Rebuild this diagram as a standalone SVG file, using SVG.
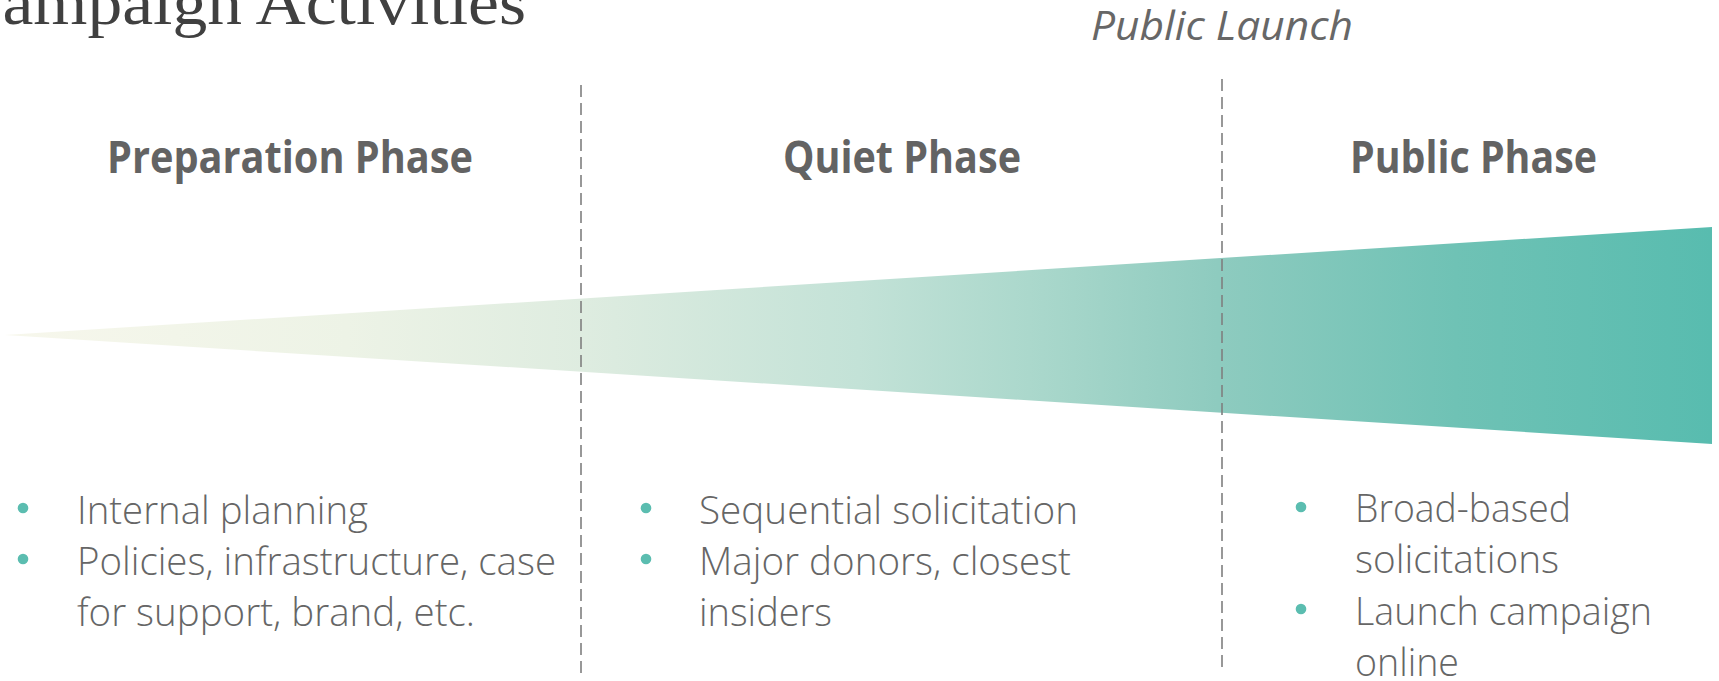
<svg xmlns="http://www.w3.org/2000/svg" width="1719" height="681" viewBox="0 0 1719 681">
  <defs>
    <linearGradient id="growth" gradientUnits="userSpaceOnUse" x1="5" y1="0" x2="1712" y2="0">
      <stop offset="0" stop-color="#f7f7ec"/>
      <stop offset="0.2" stop-color="#edf3e6"/>
      <stop offset="0.34" stop-color="#deece0"/>
      <stop offset="0.5" stop-color="#c3e2d7"/>
      <stop offset="0.6" stop-color="#abd8cc"/>
      <stop offset="0.71" stop-color="#8ecbbf"/>
      <stop offset="0.85" stop-color="#6fc2b5"/>
      <stop offset="1" stop-color="#58bcaf"/>
    </linearGradient>
    <style>
      .title { font-family: "Liberation Serif", "DejaVu Serif", serif; font-size: 64px; fill: #404040; }
      .phase { font-family: "Open Sans", "Liberation Sans", sans-serif; font-weight: 700; font-size: 44px; fill: #636363; }
      .launch { font-family: "Open Sans", "Liberation Sans", sans-serif; font-weight: 400; font-style: italic; font-size: 41px; fill: #676767; }
      .item { font-family: "Open Sans", "Liberation Sans", sans-serif; font-weight: 300; font-size: 38px; fill: #666666; }
      .dot { fill: #5bbdb0; }
      .divider { stroke: #7f7f7f; stroke-width: 1.6; stroke-dasharray: 12 6; fill: none; }
    </style>
  </defs>

  <!-- page heading, partly above the top edge -->
  <text class="title" x="-44" y="24" textLength="570" lengthAdjust="spacingAndGlyphs">Campaign Activities</text>

  <!-- widening wedge showing campaign growth -->
  <polygon id="wedge" points="5,335 1712,227 1712,444" fill="url(#growth)"/>

  <!-- phase boundaries -->
  <g id="connectors">
    <line class="divider" x1="581" y1="85" x2="581" y2="674"/>
    <line class="divider" x1="1222" y1="79" x2="1222" y2="669"/>
  </g>

  <g id="public-launch">
    <text class="launch" x="1091" y="40" textLength="262" lengthAdjust="spacingAndGlyphs">Public Launch</text>
  </g>

  <g id="preparation-phase">
    <text class="phase" x="107" y="173" textLength="366" lengthAdjust="spacingAndGlyphs">Preparation Phase</text>
    <circle class="dot" cx="23" cy="508" r="5.3"/>
    <text class="item" x="77" y="524" textLength="291" lengthAdjust="spacingAndGlyphs">Internal planning</text>
    <circle class="dot" cx="23" cy="559" r="5.3"/>
    <text class="item" x="77" y="575" textLength="479" lengthAdjust="spacingAndGlyphs">Policies, infrastructure, case</text>
    <text class="item" x="77" y="626" textLength="398" lengthAdjust="spacingAndGlyphs">for support, brand, etc.</text>
  </g>

  <g id="quiet-phase">
    <text class="phase" x="783" y="173" textLength="238" lengthAdjust="spacingAndGlyphs">Quiet Phase</text>
    <circle class="dot" cx="646" cy="508" r="5.3"/>
    <text class="item" x="699" y="524" textLength="379" lengthAdjust="spacingAndGlyphs">Sequential solicitation</text>
    <circle class="dot" cx="646" cy="559" r="5.3"/>
    <text class="item" x="699" y="575" textLength="372" lengthAdjust="spacingAndGlyphs">Major donors, closest</text>
    <text class="item" x="699" y="626" textLength="133" lengthAdjust="spacingAndGlyphs">insiders</text>
  </g>

  <g id="public-phase">
    <text class="phase" x="1350" y="173" textLength="247" lengthAdjust="spacingAndGlyphs">Public Phase</text>
    <circle class="dot" cx="1301" cy="507" r="5.3"/>
    <text class="item" x="1355" y="522" textLength="216" lengthAdjust="spacingAndGlyphs">Broad-based</text>
    <text class="item" x="1355" y="573" textLength="204" lengthAdjust="spacingAndGlyphs">solicitations</text>
    <circle class="dot" cx="1301" cy="609" r="5.3"/>
    <text class="item" x="1355" y="625" textLength="297" lengthAdjust="spacingAndGlyphs">Launch campaign</text>
    <text class="item" x="1355" y="676" textLength="104" lengthAdjust="spacingAndGlyphs">online</text>
  </g>
</svg>
